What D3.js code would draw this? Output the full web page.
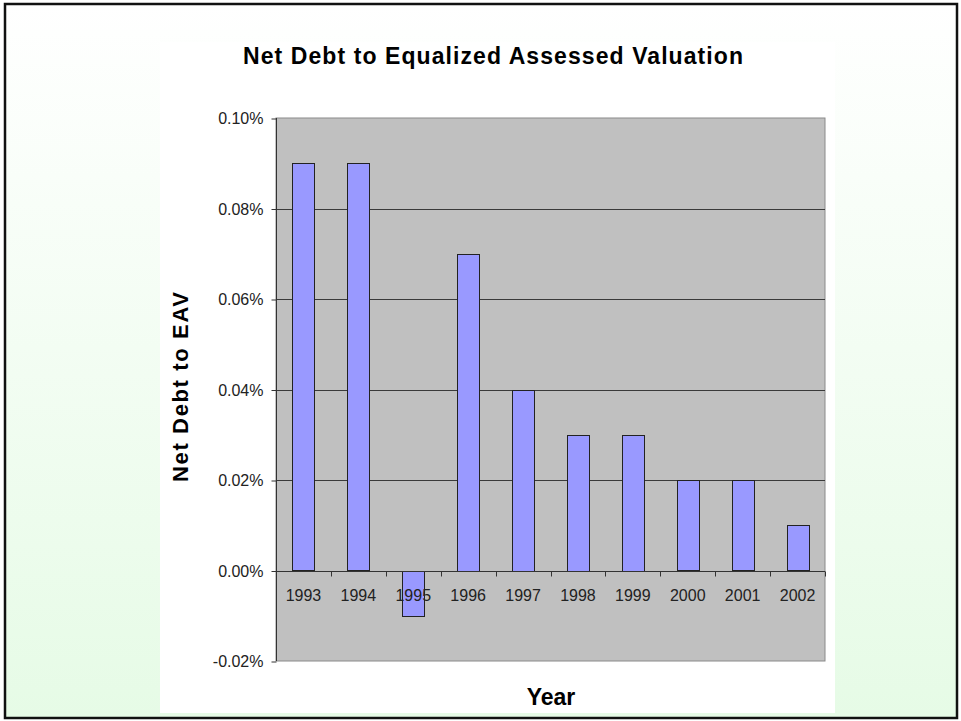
<!DOCTYPE html>
<meta charset="utf-8">
<title>Net Debt to EAV</title>
<style>
    body {
        margin: 0;
        background: #fff;
    }

    .tickLabel {
        font-family: Arial, "Liberation Sans", sans-serif;
        fill: #222;
    }

    .axisTitle {
        font-family: Arial, "Liberation Sans", sans-serif;
        font-weight: bold;
        fill: #000;
    }
</style>

<body>
    <div id="my_chart"></div>
    <script src="https://d3js.org/d3.v7.min.js"></script>
    <script>

        // data
        var years = ["1993", "1994", "1995", "1996", "1997", "1998", "1999", "2000", "2001", "2002"];
        var ratios = [0.09, 0.09, -0.01, 0.07, 0.04, 0.03, 0.03, 0.02, 0.02, 0.01];
        var yTicks = [-0.02, 0.00, 0.02, 0.04, 0.06, 0.08, 0.10];

        var W = 961, H = 721;

        // plot area
        var plot = { left: 276, right: 825, top: 118, bottom: 661 };

        var svg = d3.select("#my_chart")
            .append("svg")
            .attr("width", W)
            .attr("height", H);

        // slide background: white fading into pale green
        var grad = svg.append("defs").append("linearGradient")
            .attr("id", "bg")
            .attr("x1", 0).attr("y1", 0).attr("x2", 0).attr("y2", 1);
        grad.append("stop").attr("offset", "0%").attr("stop-color", "#ffffff");
        grad.append("stop").attr("offset", "100%").attr("stop-color", "#e6fbe6");

        svg.append("rect")
            .attr("x", 5).attr("y", 4)
            .attr("width", 952).attr("height", 714)
            .attr("fill", "url(#bg)")
            .attr("stroke", "#111")
            .attr("stroke-width", 2.5);

        // white chart panel
        svg.append("rect")
            .attr("x", 160).attr("y", 42)
            .attr("width", 675).attr("height", 671)
            .attr("fill", "#fff");

        // set the ranges
        var x = d3.scaleBand()
            .domain(years)
            .range([plot.left, plot.right])
            .paddingInner(0.6)
            .paddingOuter(0.3);

        var y = d3.scaleLinear()
            .domain([-0.02, 0.10])
            .range([plot.bottom, plot.top]);

        // gray plot area
        svg.append("rect")
            .attr("x", plot.left).attr("y", plot.top)
            .attr("width", plot.right - plot.left)
            .attr("height", plot.bottom - plot.top)
            .attr("fill", "#c0c0c0")
            .attr("stroke", "#8a8a8a")
            .attr("stroke-width", 1);

        // gridlines
        svg.append("g")
            .selectAll("line")
            .data(yTicks.filter(function (d) { return d > -0.02 && d < 0.10; }))
            .enter().append("line")
            .attr("x1", plot.left).attr("x2", plot.right)
            .attr("y1", function (d) { return Math.round(y(d)) + 0.5; })
            .attr("y2", function (d) { return Math.round(y(d)) + 0.5; })
            .attr("stroke", "#3a3a3a")
            .attr("stroke-width", 1);

        // bars
        svg.append("g")
            .selectAll("rect")
            .data(ratios)
            .enter().append("rect")
            .attr("x", function (d, i) { return Math.round(x(years[i])) + 0.5; })
            .attr("y", function (d) { return Math.round(y(Math.max(d, 0))) + 0.5; })
            .attr("width", Math.round(x.bandwidth()))
            .attr("height", function (d) { return Math.round(Math.abs(y(d) - y(0))); })
            .attr("fill", "#9999ff")
            .attr("stroke", "#222")
            .attr("stroke-width", 1);

        // Y axis (left), plain hyphen for the minus sign
        var pct = function (d) { return d3.format(".2f")(d).replace("\u2212", "-") + "%"; };
        var yAxis = svg.append("g")
            .attr("transform", "translate(" + (plot.left + 0.5) + ",0)")
            .call(d3.axisLeft(y)
                .tickValues(yTicks)
                .tickSize(5)
                .tickFormat(pct));
        yAxis.select(".domain").attr("stroke", "#333").attr("d", "M0," + plot.top + "V" + plot.bottom);
        yAxis.selectAll(".tick line").attr("stroke", "#333")
            .attr("transform", "translate(0,0.5)");
        yAxis.selectAll(".tick text")
            .attr("class", "tickLabel")
            .attr("x", -13)
            .attr("dy", "0.36em")
            .attr("fill", "#222")
            .style("font-size", "16px");

        // X axis on the zero line, ticks between categories
        var zeroY = Math.round(y(0)) + 0.5;
        var xg = svg.append("g");
        xg.append("line")
            .attr("x1", plot.left).attr("x2", plot.right)
            .attr("y1", zeroY).attr("y2", zeroY)
            .attr("stroke", "#333");
        xg.selectAll(".sep")
            .data(years.slice(1).concat(["end"]))
            .enter().append("line")
            .attr("x1", function (d, i) { return Math.round(plot.left + x.step() * (i + 1)) + 0.5; })
            .attr("x2", function (d, i) { return Math.round(plot.left + x.step() * (i + 1)) + 0.5; })
            .attr("y1", zeroY).attr("y2", zeroY + 5)
            .attr("stroke", "#333");
        xg.selectAll("text")
            .data(years)
            .enter().append("text")
            .attr("class", "tickLabel")
            .attr("x", function (d) { return x(d) + x.bandwidth() / 2; })
            .attr("y", 601)
            .attr("text-anchor", "middle")
            .style("font-size", "16px")
            .text(function (d) { return d; });

        // title
        svg.append("text")
            .attr("class", "axisTitle")
            .attr("x", 493)
            .attr("y", 64)
            .attr("text-anchor", "middle")
            .attr("textLength", 500)
            .attr("lengthAdjust", "spacing")
            .style("font-size", "23px")
            .text("Net Debt to Equalized Assessed Valuation");

        // axis titles
        svg.append("text")
            .attr("class", "axisTitle")
            .attr("transform", "translate(188,387) rotate(-90)")
            .attr("text-anchor", "middle")
            .attr("textLength", 190)
            .attr("lengthAdjust", "spacing")
            .style("font-size", "22px")
            .text("Net Debt to EAV");

        svg.append("text")
            .attr("class", "axisTitle")
            .attr("x", 551)
            .attr("y", 705)
            .attr("text-anchor", "middle")
            .style("font-size", "23px")
            .text("Year");

    </script>
</body>
